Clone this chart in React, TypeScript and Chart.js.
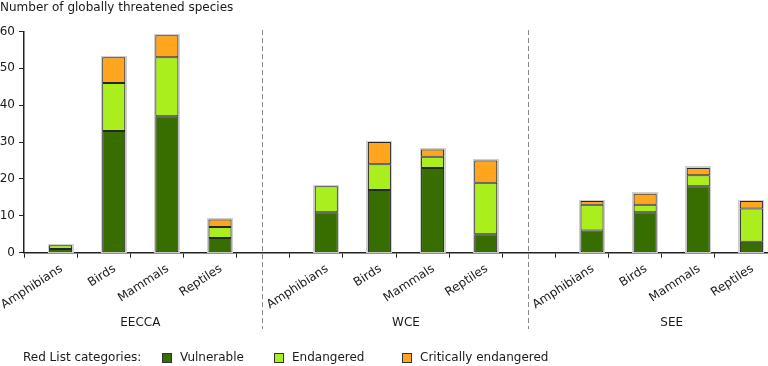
import React, { useEffect, useRef } from 'react';
import { Chart, registerables } from 'chart.js';

Chart.register(...registerables);

const title = 'Number of globally threatened species';
const categories = [
  'Amphibians', 'Birds', 'Mammals', 'Reptiles', '',
  'Amphibians', 'Birds', 'Mammals', 'Reptiles', '',
  'Amphibians', 'Birds', 'Mammals', 'Reptiles',
];
const groups = ['EECCA', 'WCE', 'SEE'];
const groupRanges = [[0, 3], [5, 8], [10, 13]];
const separators = [4, 9];
const vulnerable = [1, 33, 37, 4, null, 11, 17, 23, 5, null, 6, 11, 18, 3];
const endangered = [1, 13, 16, 3, null, 7, 7, 3, 14, null, 7, 2, 3, 9];
const critically = [null, 7, 6, 2, null, null, 6, 2, 6, null, 1, 3, 2, 2];
const seriesNames = ['Vulnerable', 'Endangered', 'Critically endangered'];
const seriesColors = ['#386e00', '#aaee1e', '#ffa61e'];
const legendTitle = 'Red List categories:';
const yMin = 0;
const yMax = 60;
const yStep = 10;

const FONT = '"DejaVu Sans", Verdana, sans-serif';
const TEXT = '#1a1a1a';

const halo = {
  id: 'halo',
  beforeDatasetsDraw(chart: any) {
    const ctx = chart.ctx;
    const series = [vulnerable, endangered, critically];
    const metas = [1, 2, 3].map((i) => chart.getDatasetMeta(i));
    ctx.save();
    ctx.fillStyle = '#cfcfcf';
    categories.forEach((_, i) => {
      const els = metas.map((m) => m.data[i]).filter((el, k) => el && series[k][i] != null);
      if (!els.length) return;
      const top = Math.min(...els.map((e: any) => e.y));
      const base = Math.max(...els.map((e: any) => e.base));
      const e0: any = els[0];
      const l = Math.floor(e0.x - e0.width / 2) - 1;
      const r = Math.ceil(e0.x + e0.width / 2) + 1;
      const t = Math.floor(top) - 1;
      ctx.fillRect(l, t, r - l, Math.ceil(base) - t);
    });
    ctx.restore();
  },
};

const decor = {
  id: 'decor',
  afterDraw(chart: any) {
    const ctx = chart.ctx;
    const x = chart.scales.x;
    ctx.save();
    ctx.font = `12px ${FONT}`;
    ctx.fillStyle = TEXT;
    ctx.textBaseline = 'middle';
    ctx.textAlign = 'left';
    ctx.fillText(title, 0, 8);

    // separators
    ctx.strokeStyle = '#8a8a8a';
    ctx.lineWidth = 1;
    ctx.setLineDash([5, 3]);
    separators.forEach((i) => {
      const px = Math.round(x.getPixelForValue(i)) - 0.5;
      ctx.beginPath();
      ctx.moveTo(px, 30);
      ctx.lineTo(px, 329);
      ctx.stroke();
    });
    ctx.setLineDash([]);

    // group labels
    const meta = chart.getDatasetMeta(1);
    ctx.textAlign = 'center';
    groups.forEach((g, gi) => {
      const [a, b] = groupRanges[gi];
      const cx = (meta.data[a].x + meta.data[b].x) / 2;
      ctx.fillText(g, cx, 323);
    });

    // legend
    const ly = 358;
    ctx.textAlign = 'left';
    ctx.fillText(legendTitle, 23, ly);
    const boxX = [162, 274, 402];
    seriesNames.forEach((name, i) => {
      const bx = boxX[i];
      ctx.fillStyle = seriesColors[i];
      ctx.fillRect(bx, ly - 5, 10, 10);
      ctx.strokeStyle = '#333';
      ctx.lineWidth = 1;
      ctx.strokeRect(bx + 0.5, ly - 4.5, 9, 9);
      ctx.fillStyle = TEXT;
      ctx.fillText(name, bx + 18, ly);
    });
    ctx.restore();
  },
};

export default function App() {
  const ref = useRef<HTMLCanvasElement>(null);
  useEffect(() => {
    document.body.style.margin = '0';
    const datasets: any[] = [
      {
        label: '',
        data: categories.map(() => null),
        stack: 'pad',
        backgroundColor: 'transparent',
        borderWidth: 0,
      },
      ...[vulnerable, endangered, critically].map((d, i) => ({
        label: seriesNames[i],
        data: d,
        stack: 'main',
        backgroundColor: seriesColors[i],
        borderColor: '#262626',
        borderWidth: 1,
        borderSkipped: false,
        inflateAmount: 0,
      })),
    ];
    const chart = new Chart(ref.current!, {
      type: 'bar',
      data: { labels: categories, datasets },
      plugins: [halo, decor],
      options: {
        animation: false,
        responsive: true,
        maintainAspectRatio: false,
        categoryPercentage: 0.753,
        barPercentage: 1.15,
        layout: { padding: { top: 31.5, left: 0, right: 0, bottom: 0 } },
        plugins: {
          legend: { display: false },
          title: { display: false },
          tooltip: { enabled: false },
        },
        scales: {
          x: {
            stacked: true,
            afterFit(scale: any) {
              scale.height = 113.3;
              scale.paddingLeft = 0;
              scale.paddingRight = 0;
            },
            grid: { drawOnChartArea: false, offset: true, tickLength: 5, color: '#222', lineWidth: 1 },
            border: { color: '#222', width: 1.5 },
            ticks: {
              autoSkip: false,
              minRotation: 33,
              maxRotation: 33,
              labelOffset: 11,
              padding: 4,
              color: TEXT,
              font: { family: FONT, size: 12 },
            },
          },
          y: {
            stacked: true,
            min: yMin,
            max: yMax,
            afterFit(scale: any) {
              scale.width = 24;
            },
            grid: { drawOnChartArea: false, tickLength: 5, color: '#222', lineWidth: 1 },
            border: { color: '#222', width: 1.5 },
            ticks: {
              stepSize: yStep,
              padding: 4,
              color: TEXT,
              font: { family: FONT, size: 12 },
            },
          },
        },
      } as any,
    });
    return () => chart.destroy();
  }, []);
  return (
    <div style={{ position: 'relative', width: 768, height: 366 }}>
      <canvas ref={ref} />
    </div>
  );
}
